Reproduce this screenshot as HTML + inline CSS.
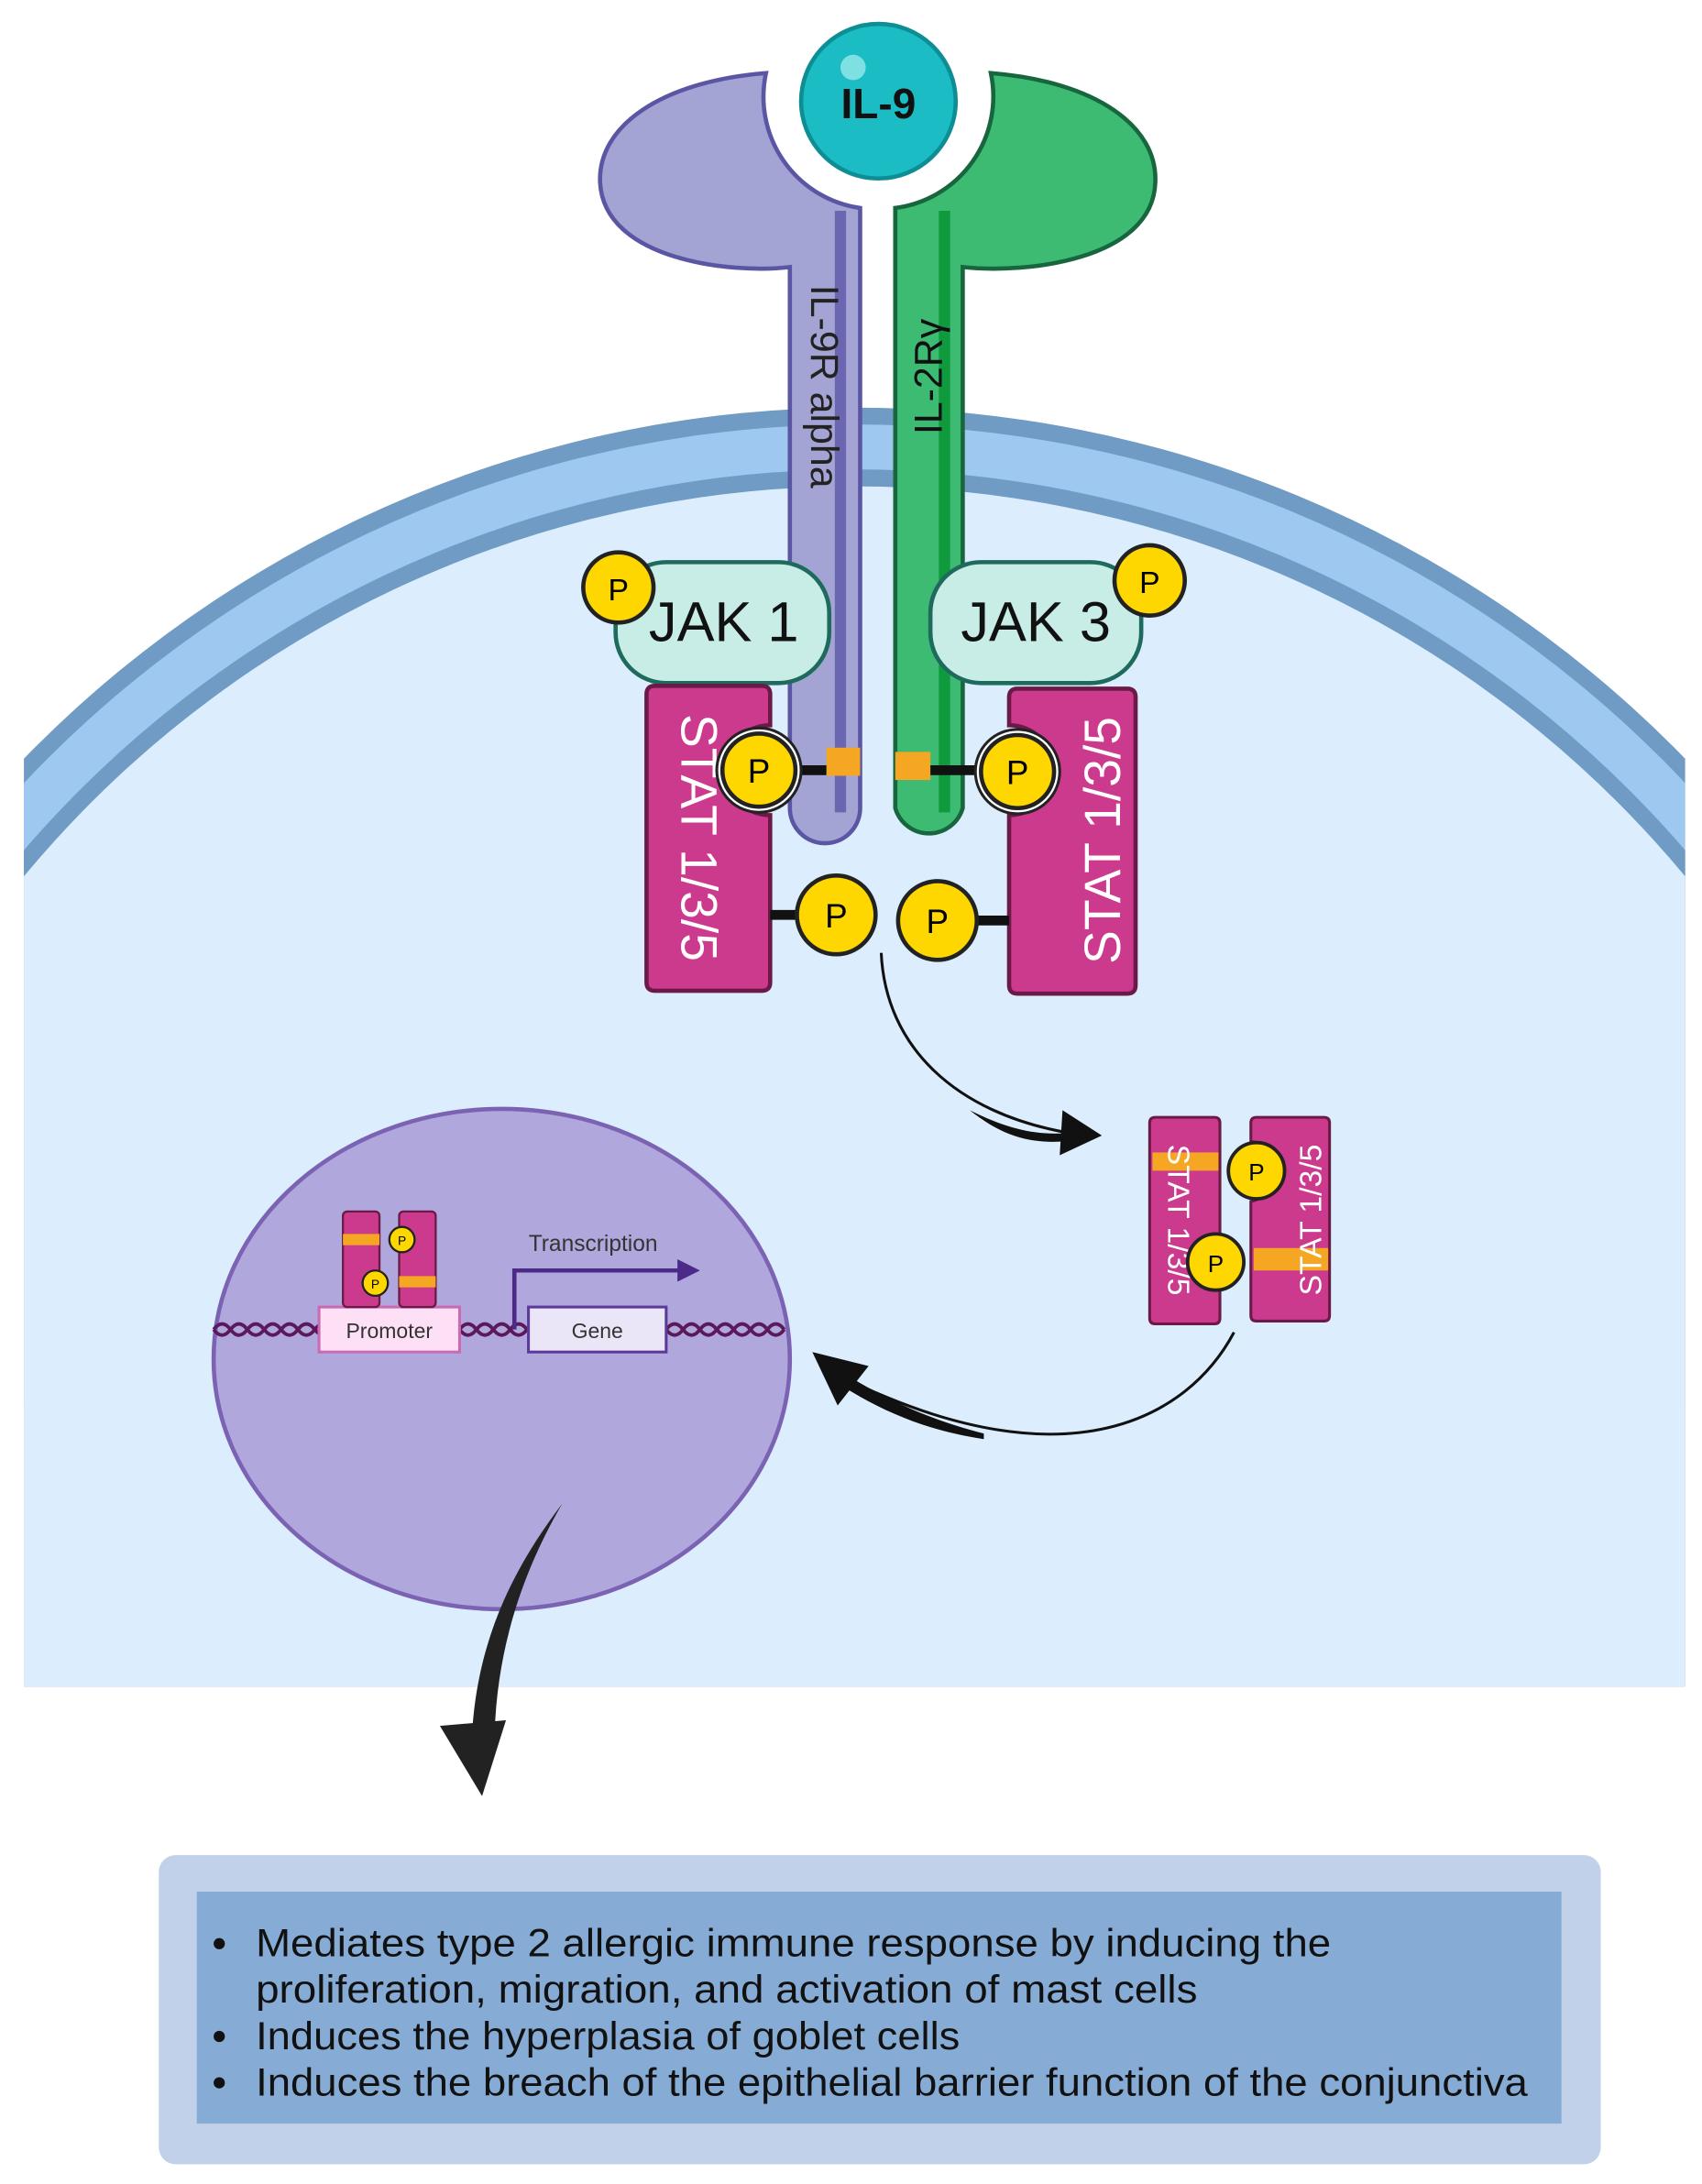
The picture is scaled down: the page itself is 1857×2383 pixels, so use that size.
<!DOCTYPE html>
<html><head><meta charset="utf-8"><style>html,body{margin:0;padding:0;background:#fff;width:1857px;height:2383px;overflow:hidden}svg{display:block;position:absolute;left:0;top:0}</style></head>
<body>
<svg width="1857" height="2383" viewBox="0 0 1211 1554" preserveAspectRatio="none" xmlns="http://www.w3.org/2000/svg" font-family="Liberation Sans, sans-serif">
<defs>
<clipPath id="cell"><rect x="17" y="0" width="1182" height="1200"/></clipPath>
</defs>
<rect width="1211" height="1554" fill="#fff"/>
<g clip-path="url(#cell)">
<circle cx="608" cy="1114" r="824" fill="#6f9bc4"/>
<circle cx="608" cy="1114" r="812" fill="#9ec8ef"/>
<circle cx="608" cy="1114" r="780" fill="#6f9bc4"/>
<circle cx="608" cy="1114" r="768" fill="#dceefd"/>
<rect x="17" y="1000" width="1182" height="200" fill="#dceefd"/>
</g>

<circle cx="625" cy="72" r="64" fill="#fff"/>
<circle cx="625" cy="72" r="55" fill="#1cbcc4" stroke="#0d8e94" stroke-width="3"/>
<circle cx="607" cy="48" r="9" fill="#7fe0e4"/>
<text x="625" y="84" font-size="30" font-weight="bold" text-anchor="middle" fill="#111">IL-9</text>

<path d="M545 52 A80 80 0 0 0 612 148 L612 575 A25 25 0 0 1 562 575 L562 190 C520 195 430 185 427 130 C425 90 470 58 545 52 Z" fill="#a3a4d4" stroke="#5b56a4" stroke-width="3"/>
<path d="M598 150 L598 578" stroke="#6b66b0" stroke-width="8"/>
<path d="M705 52 A80 80 0 0 1 637 148 L637 575 A25 25 0 0 0 685 575 L685 190 C730 195 820 185 822 130 C824 90 780 58 705 52 Z" fill="#3dbb73" stroke="#17663d" stroke-width="3"/>
<path d="M672 150 L672 578" stroke="#0e9a3d" stroke-width="8"/>
<text transform="translate(577,275) rotate(90)" font-size="28" text-anchor="middle" fill="#222">IL-9R alpha</text>
<text transform="translate(670,268) rotate(-90)" font-size="28" text-anchor="middle" fill="#111">IL-2Rγ</text>

<rect x="438" y="400" width="152" height="86" rx="36" fill="#c8ece6" stroke="#1e6b5e" stroke-width="3"/>
<text x="515" y="456" font-size="40" text-anchor="middle" fill="#111">JAK 1</text>
<circle cx="440" cy="418" r="25" fill="#ffd700" stroke="#222" stroke-width="3"/>
<text x="440" y="427" font-size="22" text-anchor="middle">P</text>
<rect x="662" y="400" width="150" height="86" rx="36" fill="#c8ece6" stroke="#1e6b5e" stroke-width="3"/>
<text x="737" y="456" font-size="40" text-anchor="middle" fill="#111">JAK 3</text>
<circle cx="818" cy="413" r="25" fill="#ffd700" stroke="#222" stroke-width="3"/>
<text x="818" y="422" font-size="22" text-anchor="middle">P</text>

<path d="M466 488 H542 Q548 488 548 494 V516 A32 32 0 0 0 548 580 V699 Q548 705 542 705 H466 Q460 705 460 699 V494 Q460 488 466 488Z" fill="#cc3a8e" stroke="#6b1946" stroke-width="3"/>
<text transform="translate(485,596) rotate(90)" font-size="36" text-anchor="middle" fill="#fff">STAT 1/3/5</text>
<path d="M724 490 H802 Q808 490 808 496 V701 Q808 707 802 707 H724 Q718 707 718 701 V580 A32 32 0 0 0 718 516 V496 Q718 490 724 490Z" fill="#cc3a8e" stroke="#6b1946" stroke-width="3"/>
<text transform="translate(797,598) rotate(-90)" font-size="36" text-anchor="middle" fill="#fff">STAT 1/3/5</text>

<rect x="588" y="532" width="24" height="20" fill="#f5a623"/>
<rect x="637" y="535" width="25" height="20" fill="#f5a623"/>
<path d="M560 548 H588 M662 548 H700 M548 651 H570 M692 655 H718" stroke="#111" stroke-width="7"/>
<circle cx="540" cy="548" r="30" fill="#fff" stroke="#222" stroke-width="2"/>
<circle cx="540" cy="548" r="26" fill="#ffd700" stroke="#222" stroke-width="3"/>
<text x="540" y="557" font-size="24" text-anchor="middle">P</text>
<circle cx="724" cy="549" r="30" fill="#fff" stroke="#222" stroke-width="2"/>
<circle cx="724" cy="549" r="26" fill="#ffd700" stroke="#222" stroke-width="3"/>
<text x="724" y="558" font-size="24" text-anchor="middle">P</text>
<circle cx="595" cy="651" r="28" fill="#ffd700" stroke="#222" stroke-width="3"/>
<text x="595" y="660" font-size="24" text-anchor="middle">P</text>
<circle cx="667" cy="655" r="28" fill="#ffd700" stroke="#222" stroke-width="3"/>
<text x="667" y="664" font-size="24" text-anchor="middle">P</text>

<path d="M627 678 C630 745 680 792 760 806" fill="none" stroke="#111" stroke-width="2"/>
<path d="M690 790 C720 805 740 808 762 806 L760 812 C735 814 715 810 690 790Z" fill="#111"/>
<path d="M756 790 L784 808 L754 822 Z" fill="#111"/>

<path d="M822 795 H864 Q868 795 868 799 V878 A20 20 0 0 0 868 918 V938 Q868 942 864 942 H822 Q818 942 818 938 V799 Q818 795 822 795Z" fill="#cc3a8e" stroke="#6b1946" stroke-width="2"/>
<rect x="820" y="820" width="47" height="13" fill="#f5a623"/>
<text transform="translate(831,868) rotate(90)" font-size="22" text-anchor="middle" fill="#fff">STAT 1/3/5</text>
<path d="M894 795 H942 Q946 795 946 799 V936 Q946 940 942 940 H894 Q890 940 890 936 V855 A22 22 0 0 0 890 812 V799 Q890 795 894 795Z" fill="#cc3a8e" stroke="#6b1946" stroke-width="2"/>
<rect x="892" y="888" width="53" height="16" fill="#f5a623"/>
<text transform="translate(940,868) rotate(-90)" font-size="22" text-anchor="middle" fill="#fff">STAT 1/3/5</text>
<circle cx="894" cy="833" r="20" fill="#ffd700" stroke="#222" stroke-width="2.5"/>
<text x="894" y="840" font-size="17" text-anchor="middle">P</text>
<circle cx="865" cy="898" r="20" fill="#ffd700" stroke="#222" stroke-width="2.5"/>
<text x="865" y="905" font-size="17" text-anchor="middle">P</text>

<path d="M878 948 C845 1010 760 1055 610 985" fill="none" stroke="#111" stroke-width="2"/>
<path d="M700 1020 C660 1010 630 995 605 980 L602 988 C630 1005 660 1018 700 1024Z" fill="#111"/>
<path d="M578 962 L618 972 L596 1000 Z" fill="#111"/>

<ellipse cx="357" cy="967" rx="205" ry="178" fill="#b0a8dc" stroke="#7c62b3" stroke-width="3"/>
<g fill="none" stroke="#5a1a5a" stroke-width="2.5">
<path d="M152 946 q6 -8 12 0 t12 0 t12 0 t12 0 t12 0 t12 0 t12 0 M327 946 q6 -8 12 0 t12 0 t12 0 t12 0 M474 946 q6 -8 12 0 t12 0 t12 0 t12 0 t12 0 t12 0 t12 0"/>
<path d="M152 946 q6 8 12 0 t12 0 t12 0 t12 0 t12 0 t12 0 t12 0 M327 946 q6 8 12 0 t12 0 t12 0 t12 0 M474 946 q6 8 12 0 t12 0 t12 0 t12 0 t12 0 t12 0 t12 0"/>
</g>
<rect x="227" y="930" width="100" height="32" fill="#fde0f5" stroke="#c86bb3" stroke-width="2"/>
<text x="277" y="952" font-size="15" text-anchor="middle" fill="#333">Promoter</text>
<rect x="376" y="930" width="98" height="32" fill="#eae6f8" stroke="#5b3a99" stroke-width="2"/>
<text x="425" y="952" font-size="15" text-anchor="middle" fill="#333">Gene</text>
<path d="M366 946 V904 H484" fill="none" stroke="#4b2a8a" stroke-width="3"/>
<path d="M482 896 L498 904 L482 912Z" fill="#4b2a8a"/>
<text x="422" y="890" font-size="16" text-anchor="middle" fill="#333">Transcription</text>
<rect x="244" y="862" width="26" height="68" rx="3" fill="#cc3a8e" stroke="#6b1946" stroke-width="1.5"/>
<rect x="284" y="862" width="26" height="68" rx="3" fill="#cc3a8e" stroke="#6b1946" stroke-width="1.5"/>
<rect x="244" y="878" width="26" height="8" fill="#f5a623"/>
<rect x="284" y="908" width="26" height="8" fill="#f5a623"/>
<circle cx="286" cy="882" r="9" fill="#ffd700" stroke="#222" stroke-width="1.5"/>
<text x="286" y="886" font-size="9" text-anchor="middle">P</text>
<circle cx="267" cy="913" r="9" fill="#ffd700" stroke="#222" stroke-width="1.5"/>
<text x="267" y="917" font-size="9" text-anchor="middle">P</text>

<path d="M400 1070 C362 1120 340 1170 336 1232 L352 1232 C354 1172 372 1118 400 1070 Z" fill="#222"/>
<path d="M313 1228 L360 1224 L343 1278 Z" fill="#222"/>

<rect x="113" y="1320" width="1026" height="220" rx="12" fill="#c1d1e9"/>
<rect x="140" y="1346" width="971" height="165" fill="#86acd6"/>
<g font-size="28" fill="#111">
<circle cx="156" cy="1383" r="4" fill="#111"/>
<circle cx="156" cy="1449" r="4" fill="#111"/>
<circle cx="156" cy="1482" r="4" fill="#111"/>
<text x="182" y="1392" textLength="765" lengthAdjust="spacingAndGlyphs">Mediates type 2 allergic immune response by inducing  the</text>
<text x="182" y="1425" textLength="670" lengthAdjust="spacingAndGlyphs">proliferation, migration, and activation of mast cells</text>
<text x="182" y="1458" textLength="501" lengthAdjust="spacingAndGlyphs">Induces the hyperplasia of goblet cells</text>
<text x="182" y="1491" textLength="905" lengthAdjust="spacingAndGlyphs">Induces the breach of the epithelial barrier function of the conjunctiva</text>
</g>
</svg>
</body></html>
